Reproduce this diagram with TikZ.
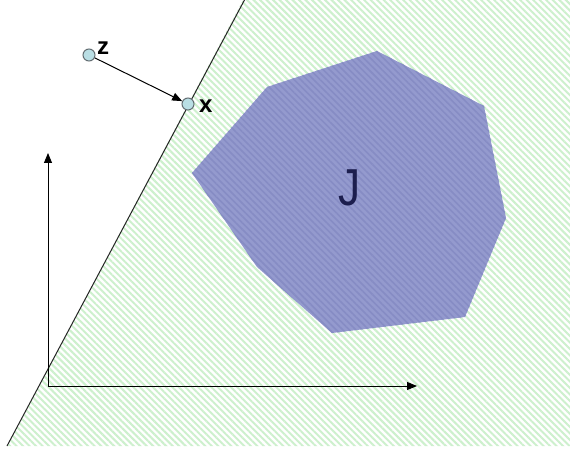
\documentclass[tikz,border=0pt]{standalone}
\usepackage{fontspec}
\setmainfont{Liberation Sans}
\usetikzlibrary{patterns.meta,arrows.meta}
\definecolor{greenstripe}{RGB}{205,240,205}
\definecolor{polyfill}{RGB}{148,154,206}
\definecolor{polystripe}{RGB}{134,140,196}
\definecolor{ptfill}{RGB}{185,222,228}
\definecolor{ptdraw}{RGB}{100,110,115}
\definecolor{jcol}{RGB}{28,30,78}
\tikzset{
  halfplane/.style={pattern={Lines[angle=-45,distance=4.6pt,line width=2pt]},pattern color=greenstripe},
  polyshape/.style={fill=polyfill},
  polyhatch/.style={pattern={Lines[angle=-45,distance=4.6pt,line width=1.6pt]},pattern color=polystripe},
  pt/.style={circle,draw=ptdraw,fill=ptfill,line width=1pt,inner sep=0pt,minimum size=12pt},
  lbl/.style={font=\fontsize{24}{26}\selectfont\bfseries,text=black,inner sep=0pt},
  axis/.style={line width=1pt,-{Triangle[length=10pt,width=8pt]}},
  conn/.style={line width=1pt,-{Triangle[length=10pt,width=8pt]}},
  bound/.style={line width=1pt,draw=black!85}
}
\begin{document}
\begin{tikzpicture}[x=1pt,y=-1pt]
\useasboundingbox (0,0) rectangle (570,449);
\fill[white] (0,0) rectangle (570,449);
% half plane
\path[halfplane] (243,0) -- (570,0) -- (570,446) -- (7.5,446) -- cycle;
\coordinate (lt) at (245,-1);
\coordinate (lb) at (7,446);
\draw[bound] (lt) -- (lb);
% polygon J
\path[polyshape] (192,173) -- (267,87) -- (377,51) -- (484,106) -- (506,218) -- (465,317) -- (332,333) -- (257,267) -- cycle;
\path[polyhatch] (192,173) -- (267,87) -- (377,51) -- (484,106) -- (506,218) -- (465,317) -- (332,333) -- (257,267) -- cycle;
\node[font=\fontsize{52}{54}\selectfont,text=jcol,inner sep=0pt,xscale=0.85] (J) at (350,188) {J};
% axes
\coordinate (o) at (48,386);
\coordinate (yt) at (48,153);
\coordinate (xt) at (417,386);
\draw[axis] (o) -- (yt);
\draw[axis] (o) -- (xt);
% points
\node[pt] (z) at (89,55) {};
\node[pt] (x) at (188,104) {};
\draw[conn] (z) -- (x);
\node[lbl,anchor=south west] (zl) at (97,55) {z};
\node[lbl,anchor=west] (xl) at (199,106) {x};
\end{tikzpicture}
\end{document}
